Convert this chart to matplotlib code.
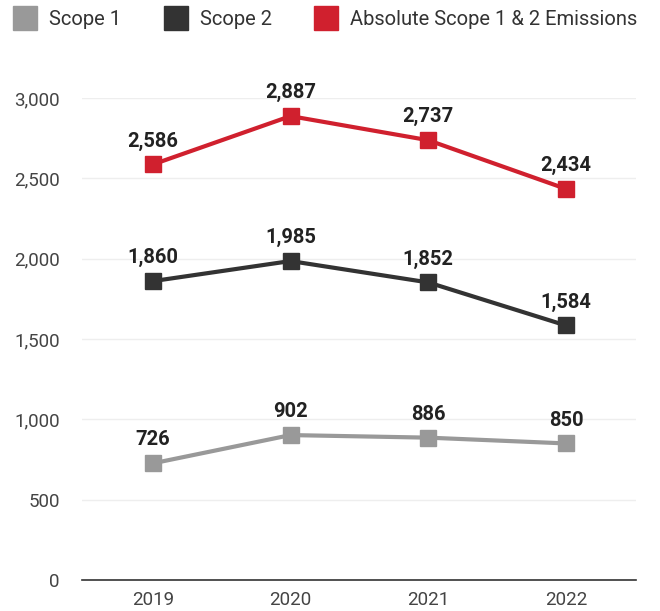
import matplotlib
matplotlib.use("Agg")
import matplotlib.pyplot as plt
from matplotlib.lines import Line2D

plt.rcParams['font.family'] = ['Roboto', 'DejaVu Sans']

# Data
years = [2019, 2020, 2021, 2022]
scope1 = [726, 902, 886, 850]
scope2 = [1860, 1985, 1852, 1584]
absolute = [2586, 2887, 2737, 2434]
series_names = ["Scope 1", "Scope 2", "Absolute Scope 1 & 2 Emissions"]
colors = ["#999999", "#333333", "#d0202e"]

fig = plt.figure(figsize=(6.6, 6.11), dpi=100)
ax = fig.add_axes([0.124, 0.0507, 0.84, 0.789])

for vals, col in zip([scope1, scope2, absolute], colors):
    ax.plot(years, vals, color=col, lw=3, marker='s', markersize=11.5,
            solid_joinstyle='miter', clip_on=False, zorder=3)
    for x, y in zip(years, vals):
        ax.annotate(f"{y:,}", (x, y), xytext=(0, 10), textcoords='offset points',
                    ha='center', va='bottom', fontsize=14.5, fontweight='bold',
                    color='#222222')

ax.set_xlim(2018.485, 2022.51)
ax.set_ylim(0, 3000)
ax.set_xticks(years)
ax.set_xticklabels([str(y) for y in years])
ax.set_yticks(range(0, 3001, 500))
ax.set_yticklabels([f"{v:,}" for v in range(0, 3001, 500)])
ax.tick_params(axis='both', length=0, labelsize=13.5, colors='#444444')
ax.tick_params(axis='x', pad=8)
ax.tick_params(axis='y', pad=16)
ax.grid(axis='y', color='#eeeeee', lw=1)
ax.set_axisbelow(True)
for s in ['top', 'right', 'left']:
    ax.spines[s].set_visible(False)
ax.spines['bottom'].set_color('#333333')
ax.spines['bottom'].set_linewidth(1.2)

handles = [Line2D([], [], ls='none', marker='s', markersize=17, color=c) for c in colors]
fig.legend(handles, series_names, loc='upper left', bbox_to_anchor=(0.0197, 0.984),
           ncol=3, frameon=False, fontsize=14.5, handletextpad=0.6,
           handlelength=1.2, columnspacing=2.1, borderpad=0, borderaxespad=0,
           labelcolor='#333333')

fig.savefig("out.png", dpi=100)
